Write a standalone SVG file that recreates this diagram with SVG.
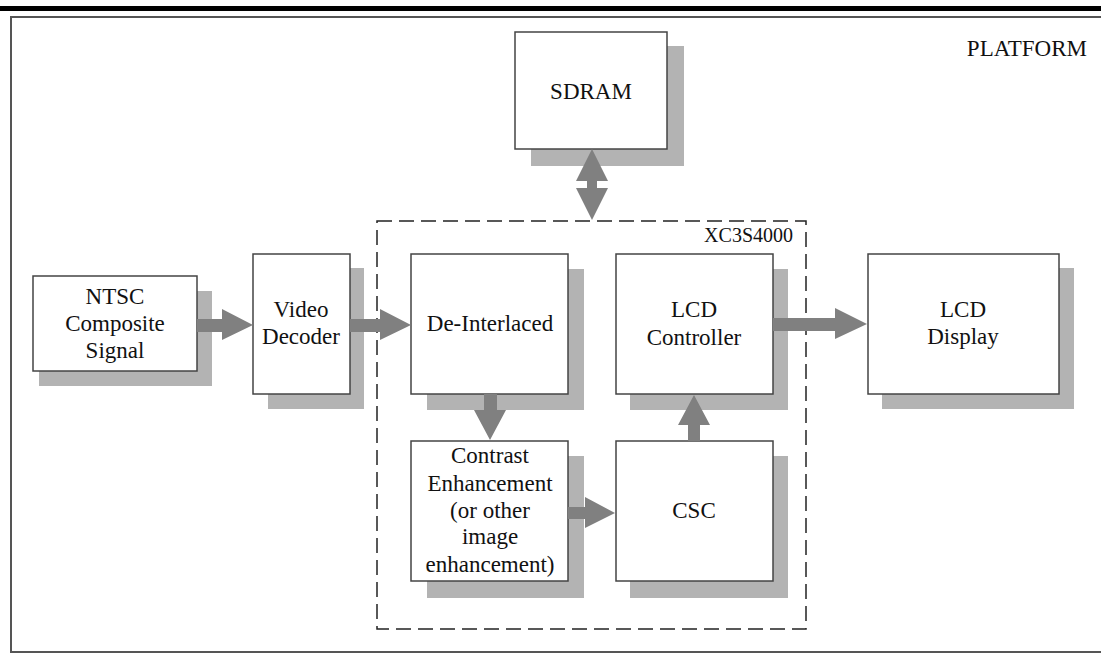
<svg xmlns="http://www.w3.org/2000/svg" width="1101" height="654" viewBox="0 0 1101 654">
<style>
.sh{fill:#b3b3b3}
.bx{fill:#fff;stroke:#444;stroke-width:1.5}
.t{font-family:"Liberation Serif","Times New Roman",serif;font-size:23px;fill:#111;text-anchor:middle}
.ar{fill:#808080}
</style>
<rect x="0" y="6" width="1101" height="5" fill="#000"/>
<rect x="11" y="17" width="1100" height="635" fill="#fff" stroke="#555" stroke-width="2"/>
<text x="1087" y="56" class="t" style="text-anchor:end">PLATFORM</text>
<g id="fpga">
<rect x="377" y="221" width="429" height="408" fill="none" stroke="#222" stroke-width="1.5" stroke-dasharray="15 7"/>
<text x="793" y="242" class="t" style="text-anchor:end;font-size:20px">XC3S4000</text>
</g>
<g id="sdram">
<rect class="sh" x="531" y="46" width="153" height="120"/>
<rect class="bx" x="515" y="32" width="152" height="117"/>
<text class="t" x="591" y="99">SDRAM</text>
</g>
<g id="ntsc">
<rect class="sh" x="39" y="291" width="173" height="95"/>
<rect class="bx" x="33" y="276" width="164" height="95"/>
<text class="t" x="115" y="304">NTSC</text>
<text class="t" x="115" y="331">Composite</text>
<text class="t" x="115" y="358">Signal</text>
</g>
<g id="decoder">
<rect class="sh" x="268" y="268" width="96" height="141"/>
<rect class="bx" x="253" y="254" width="97" height="140"/>
<text class="t" x="301" y="317">Video</text>
<text class="t" x="301" y="344">Decoder</text>
</g>
<g id="deinterlaced">
<rect class="sh" x="427" y="269" width="157" height="141"/>
<rect class="bx" x="411" y="254" width="157" height="140"/>
<text class="t" x="490" y="331">De-Interlaced</text>
</g>
<g id="lcdctrl">
<rect class="sh" x="630" y="269" width="158" height="141"/>
<rect class="bx" x="616" y="254" width="157" height="140"/>
<text class="t" x="694" y="317">LCD</text>
<text class="t" x="694" y="345">Controller</text>
</g>
<g id="contrast">
<rect class="sh" x="427" y="456" width="157" height="142"/>
<rect class="bx" x="411" y="441" width="157" height="140"/>
<text class="t" x="490" y="463">Contrast</text>
<text class="t" x="490" y="491">Enhancement</text>
<text class="t" x="490" y="518">(or other</text>
<text class="t" x="490" y="544">image</text>
<text class="t" x="490" y="572">enhancement)</text>
</g>
<g id="csc">
<rect class="sh" x="630" y="456" width="158" height="142"/>
<rect class="bx" x="616" y="441" width="157" height="140"/>
<text class="t" x="694" y="518">CSC</text>
</g>
<g id="lcddisplay">
<rect class="sh" x="882" y="268" width="192" height="141"/>
<rect class="bx" x="868" y="254" width="191" height="140"/>
<text class="t" x="963" y="317">LCD</text>
<text class="t" x="963" y="344">Display</text>
</g>
<g id="connectors" class="ar">
<polygon points="197,319 222,319 222,309 253,325 222,340 222,332 197,332"/>
<polygon points="350,319 380,319 380,309 411,325 380,340 380,332 350,332"/>
<polygon points="773,318 835,318 835,308 867,324 835,339 835,331 773,331"/>
<polygon points="484,394 497,394 497,410 506,410 490,440 474,410 484,410"/>
<polygon points="568,507 585,507 585,497 615,513 585,528 585,519 568,519"/>
<polygon points="688,441 700,441 700,425 710,425 694,395 678,425 688,425"/>
<polygon points="592,149 608,181 597,181 597,188 608,188 592,220 576,188 587,188 587,181 576,181"/>
</g>
</svg>
